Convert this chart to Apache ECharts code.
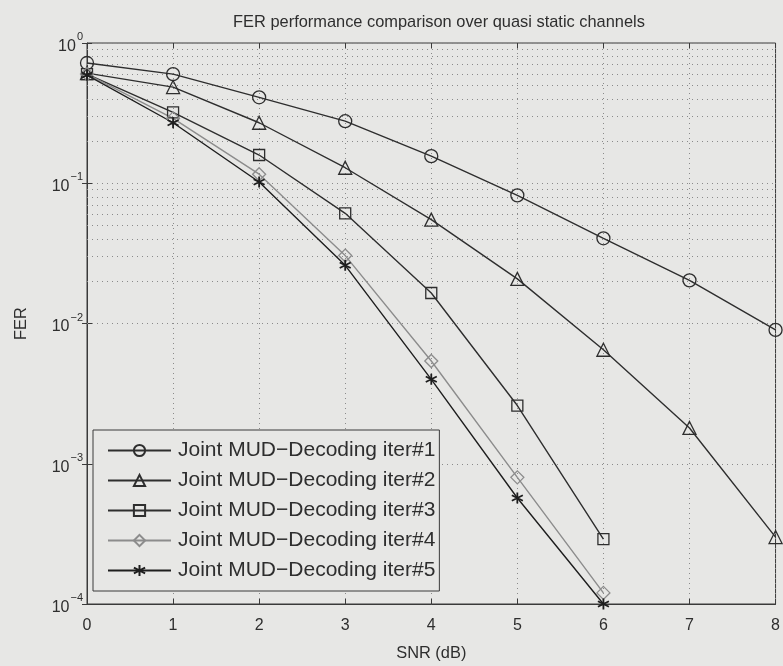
<!DOCTYPE html>
<html>
<head>
<meta charset="utf-8">
<script src="https://cdn.jsdelivr.net/npm/echarts@6/dist/echarts.min.js"></script>
<style>
  html, body { margin: 0; padding: 0; background: #e7e7e5; }
  #chart { width: 783px; height: 666px; }
</style>
</head>
<body>
<div id="chart"></div>
<script>
// SNR points (dB)
const snr = [0, 1, 2, 3, 4, 5, 6, 7, 8];

// Frame error rate per decoding iteration
const fer1 = [0.72, 0.60, 0.41, 0.277, 0.156, 0.082, 0.0405, 0.0203, 0.009];
const fer2 = [0.61, 0.485, 0.27, 0.129, 0.055, 0.0208, 0.0065, 0.0018, 0.0003];
const fer3 = [0.60, 0.32, 0.159, 0.061, 0.0165, 0.0026, 0.00029];
const fer4 = [0.60, 0.29, 0.116, 0.0305, 0.0054, 0.0008, 0.00012];
const fer5 = [0.59, 0.27, 0.102, 0.026, 0.004, 0.00057, 0.0001];

const names = [
  'Joint MUD\u2212Decoding iter#1',
  'Joint MUD\u2212Decoding iter#2',
  'Joint MUD\u2212Decoding iter#3',
  'Joint MUD\u2212Decoding iter#4',
  'Joint MUD\u2212Decoding iter#5'
];

// Minor log grid lines (2..9 x 10^k)
const minorMantissas = [2, 3, 4, 5, 6, 7, 8, 9];
const decades = [-4, -3, -2, -1];

const FONT = '"Liberation Sans", Arial, sans-serif';
const INK = '#2e2e2e';
const BG = '#e7e7e5';

function pairs(vals) {
  return vals.map((v, i) => [snr[i], v]);
}

const minorLines = [];
decades.forEach(d => minorMantissas.forEach(m => {
  minorLines.push({ yAxis: m * Math.pow(10, d) });
}));

const asterisk = 'path://M0,-5L0,5M-4.33,-2.5L4.33,2.5M-4.33,2.5L4.33,-2.5';

function mk(name, vals, symbol, size, color, extra) {
  return Object.assign({
    name: name,
    type: 'line',
    data: pairs(vals),
    symbol: symbol,
    symbolSize: size,
    showAllSymbol: true,
    lineStyle: { color: color, width: 1.4 },
    itemStyle: { color: 'rgba(0,0,0,0)', borderColor: color, borderWidth: 1.3 },
    emphasis: { disabled: true },
    z: 3
  }, extra || {});
}

const series = [
  mk(names[0], fer1, 'circle', 13, INK, {
    markLine: {
      silent: true,
      symbol: 'none',
      label: { show: false },
      lineStyle: { color: '#8a8a8a', type: [1, 4], width: 1 },
      data: minorLines,
      z: 1
    }
  }),
  mk(names[1], fer2, 'triangle', 13, INK),
  mk(names[2], fer3, 'rect', 11, INK),
  mk(names[3], fer4, 'diamond', 13, '#8c8c8c'),
  mk(names[4], fer5, asterisk, 11, '#1e1e1e', {
    itemStyle: { color: '#1e1e1e', borderColor: '#1e1e1e', borderWidth: 1.8 }
  })
];

const supRich = {
  base: { fontSize: 16, fontFamily: FONT, color: INK, verticalAlign: 'bottom' },
  sup: { fontSize: 11, fontFamily: FONT, color: INK, verticalAlign: 'top', padding: [0, 0, 12, 1] }
};

const chart = echarts.init(document.getElementById('chart'), null, { renderer: 'canvas' });
chart.setOption({
  backgroundColor: BG,
  animation: false,
  title: {
    text: 'FER performance comparison over quasi static channels',
    left: 434,
    textAlign: 'center',
    top: 9,
    textStyle: { fontFamily: FONT, fontSize: 16.4, fontWeight: 'normal', color: INK }
  },
  legend: {
    orient: 'vertical',
    left: 93,
    top: 430,
    itemWidth: 63,
    itemHeight: 14,
    itemGap: 9,
    padding: [10, 4, 10, 14],
    borderColor: '#3a3a3a',
    borderWidth: 1,
    backgroundColor: BG,
    textStyle: { fontFamily: FONT, fontSize: 21, color: INK, padding: [0, 0, 0, 2] },
    data: names
  },
  grid: {
    left: 87, right: 2, top: 43, bottom: 59,
    show: true, borderColor: '#3a3a3a', borderWidth: 1, backgroundColor: 'transparent'
  },
  xAxis: [{
    type: 'value',
    min: 0, max: 8, interval: 1,
    name: 'SNR (dB)',
    nameLocation: 'middle',
    nameGap: 41,
    nameTextStyle: { fontFamily: FONT, fontSize: 16.4, color: INK },
    axisLine: { lineStyle: { color: '#3a3a3a' } },
    axisTick: { inside: true, length: 5, lineStyle: { color: '#3a3a3a' } },
    axisLabel: { fontFamily: FONT, fontSize: 16, color: INK, margin: 14 },
    splitLine: { show: true, lineStyle: { color: '#8a8a8a', type: [1, 4], width: 1 } }
  }, {
    type: 'value',
    position: 'top',
    min: 0, max: 8, interval: 1,
    axisLine: { show: false },
    axisTick: { inside: true, length: 5, lineStyle: { color: '#3a3a3a' } },
    axisLabel: { show: false },
    splitLine: { show: false }
  }],
  yAxis: [{
    type: 'log',
    logBase: 10,
    min: 0.0001, max: 1,
    name: 'FER',
    nameLocation: 'middle',
    nameGap: 58,
    nameTextStyle: { fontFamily: FONT, fontSize: 16.4, color: INK },
    axisLine: { show: true, lineStyle: { color: '#3a3a3a' } },
    axisTick: { show: true, inside: true, length: 5, lineStyle: { color: '#3a3a3a' } },
    axisLabel: {
      margin: 4,
      formatter: function (v) {
        const e = Math.round(Math.log10(v));
        return '{base|10}{sup|' + (e < 0 ? '\u2212' + (-e) : e) + '}';
      },
      rich: supRich
    },
    splitLine: { show: true, lineStyle: { color: '#8a8a8a', type: [1, 4], width: 1 } }
  }, {
    type: 'log',
    logBase: 10,
    min: 0.0001, max: 1,
    position: 'right',
    axisLine: { show: false },
    axisTick: { show: true, inside: true, length: 5, lineStyle: { color: '#3a3a3a' } },
    axisLabel: { show: false },
    splitLine: { show: false }
  }],
  series: series
});
</script>
</body>
</html>
